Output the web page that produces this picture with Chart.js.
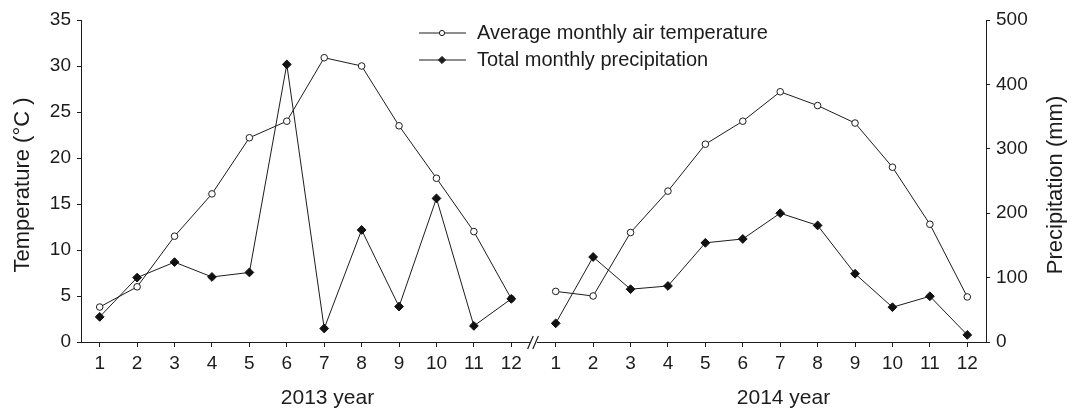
<!DOCTYPE html>
<html><head><meta charset="utf-8">
<script src="https://cdn.jsdelivr.net/npm/chart.js@4.4.1/dist/chart.umd.min.js"></script>
<style>
html,body{margin:0;padding:0;background:#fff;}
#wrap{position:relative;width:1073px;height:414px;background:#fff;}
canvas{position:absolute;left:0;top:0;}
</style></head><body>
<div id="wrap"><canvas id="c1" width="1073" height="414"></canvas><canvas id="c2" width="1073" height="414"></canvas></div>
<script>
const months = ['1','2','3','4','5','6','7','8','9','10','11','12'];
const temp2013 = [3.8, 6.0, 11.5, 16.1, 22.2, 24.0, 30.9, 30.0, 23.5, 17.8, 12.0, 4.7];
const prec2013 = [39, 100, 124, 101, 108, 431, 21, 174, 55, 223, 25, 67];
const temp2014 = [5.5, 5.0, 11.9, 16.4, 21.5, 24.0, 27.2, 25.7, 23.8, 19.0, 12.8, 4.9];
const prec2014 = [29, 132, 82, 87, 154, 160, 200, 181, 106, 54, 71, 11];
const yearLabels = ['2013 year', '2014 year'];
const seriesNames = ['Average monthly air temperature', 'Total monthly precipitation'];
const tempTitle = 'Temperature (\u00B0C )';
const precTitle = 'Precipitation (mm)';
const tempRange = [0, 35, 5];
const precRange = [0, 500, 100];

const FONT = '"Liberation Sans", Arial, sans-serif';
const INK = '#1c1c1c';
const W = 1073, H = 414;

function drawMarker(ctx, style, x, y, r) {
  ctx.beginPath();
  if (style === 'circle') {
    ctx.arc(x, y, r, 0, Math.PI * 2);
    ctx.fillStyle = '#fff';
  } else {
    ctx.moveTo(x - r, y); ctx.lineTo(x, y - r); ctx.lineTo(x + r, y); ctx.lineTo(x, y + r); ctx.closePath();
    ctx.fillStyle = INK;
  }
  ctx.fill();
  ctx.strokeStyle = INK; ctx.lineWidth = 1; ctx.stroke();
}

function makeChart(id, temps, precs, side, yearLabel) {
  const decor = {
    id: 'decor' + id,
    afterDraw(chart) {
      const ctx = chart.ctx, ca = chart.chartArea;
      ctx.save();
      ctx.fillStyle = INK;
      ctx.font = '21px ' + FONT;
      ctx.textAlign = 'center'; ctx.textBaseline = 'middle';
      ctx.fillText(yearLabel, (ca.left + ca.right) / 2 + 22, 398);
      ctx.font = '22px ' + FONT;
      ctx.save();
      const tx = side === 'left' ? 23 : 1056;
      ctx.translate(tx, (ca.top + ca.bottom) / 2 + 4);
      ctx.rotate(-Math.PI / 2);
      ctx.fillText(side === 'left' ? tempTitle : precTitle, 0, 0);
      ctx.restore();
      if (side === 'right') {
        const styles = ['circle', 'rectRot'], radii = [2.6, 3.6];
        for (let i = 0; i < seriesNames.length; i++) {
          const y = 33 + 27 * i;
          ctx.beginPath(); ctx.moveTo(419, y); ctx.lineTo(466, y);
          ctx.strokeStyle = INK; ctx.lineWidth = 1; ctx.stroke();
          drawMarker(ctx, styles[i], 442, y, radii[i]);
          ctx.fillStyle = INK; ctx.font = '20px ' + FONT;
          ctx.textAlign = 'left'; ctx.textBaseline = 'middle';
          ctx.fillText(seriesNames[i], 477, y);
        }
        const cx = ca.left - 4, cy = ca.bottom;
        ctx.strokeStyle = INK; ctx.lineWidth = 1.2;
        [-2.6, 2.6].forEach(d => {
          ctx.beginPath(); ctx.moveTo(cx + d - 2.8, cy + 7); ctx.lineTo(cx + d + 2.8, cy - 6); ctx.stroke();
        });
      }
      ctx.restore();
    }
  };
  const tickFont = { family: FONT, size: 19 };
  return new Chart(document.getElementById(id), {
    type: 'line',
    data: {
      labels: months,
      datasets: [
        { label: seriesNames[0], data: temps, yAxisID: 'yT', order: 1,
          borderColor: INK, borderWidth: 1, tension: 0,
          pointStyle: 'circle', pointRadius: 3.3, pointBorderWidth: 1,
          pointBackgroundColor: '#fff', pointBorderColor: INK },
        { label: seriesNames[1], data: precs, yAxisID: 'yP', order: 0,
          borderColor: INK, borderWidth: 1, tension: 0,
          pointStyle: 'rectRot', pointRadius: 4.4, pointBorderWidth: 1,
          pointBackgroundColor: '#111', pointBorderColor: '#111' }
      ]
    },
    options: {
      responsive: false, animation: false, devicePixelRatio: 1,
      layout: { padding: side === 'left' ? { top: 20, right: W - 530, left: 0, bottom: 0 } : { top: 20, left: 537, right: 0, bottom: 0 } },
      plugins: { legend: { display: false }, tooltip: { enabled: false } },
      scales: {
        x: {
          type: 'category', offset: true,
          grid: { display: true, drawOnChartArea: false, drawTicks: true, tickLength: 5, color: INK },
          border: { display: true, color: INK, width: 1 },
          ticks: { color: INK, font: tickFont, padding: 5, autoSkip: false, maxRotation: 0 },
          afterFit(s) { s.height = H - 342; }
        },
        yT: {
          type: 'linear', position: 'left', display: side === 'left',
          min: tempRange[0], max: tempRange[1],
          grid: { display: true, drawOnChartArea: false, drawTicks: true, tickLength: 4, color: INK },
          border: { display: true, color: INK, width: 1 },
          ticks: { stepSize: tempRange[2], color: INK, font: tickFont, padding: 6 },
          afterFit(s) { s.width = side === 'left' ? 81 : 0; }
        },
        yP: {
          type: 'linear', position: 'right', display: side === 'right',
          min: precRange[0], max: precRange[1],
          grid: { display: true, drawOnChartArea: false, drawTicks: true, tickLength: 4, color: INK },
          border: { display: true, color: INK, width: 1 },
          ticks: { stepSize: precRange[2], color: INK, font: tickFont, padding: 6 },
          afterFit(s) { s.width = side === 'right' ? W - 986 : 0; }
        }
      }
    },
    plugins: [decor]
  });
}

makeChart('c1', temp2013, prec2013, 'left', yearLabels[0]);
makeChart('c2', temp2014, prec2014, 'right', yearLabels[1]);
</script>
</body></html>
